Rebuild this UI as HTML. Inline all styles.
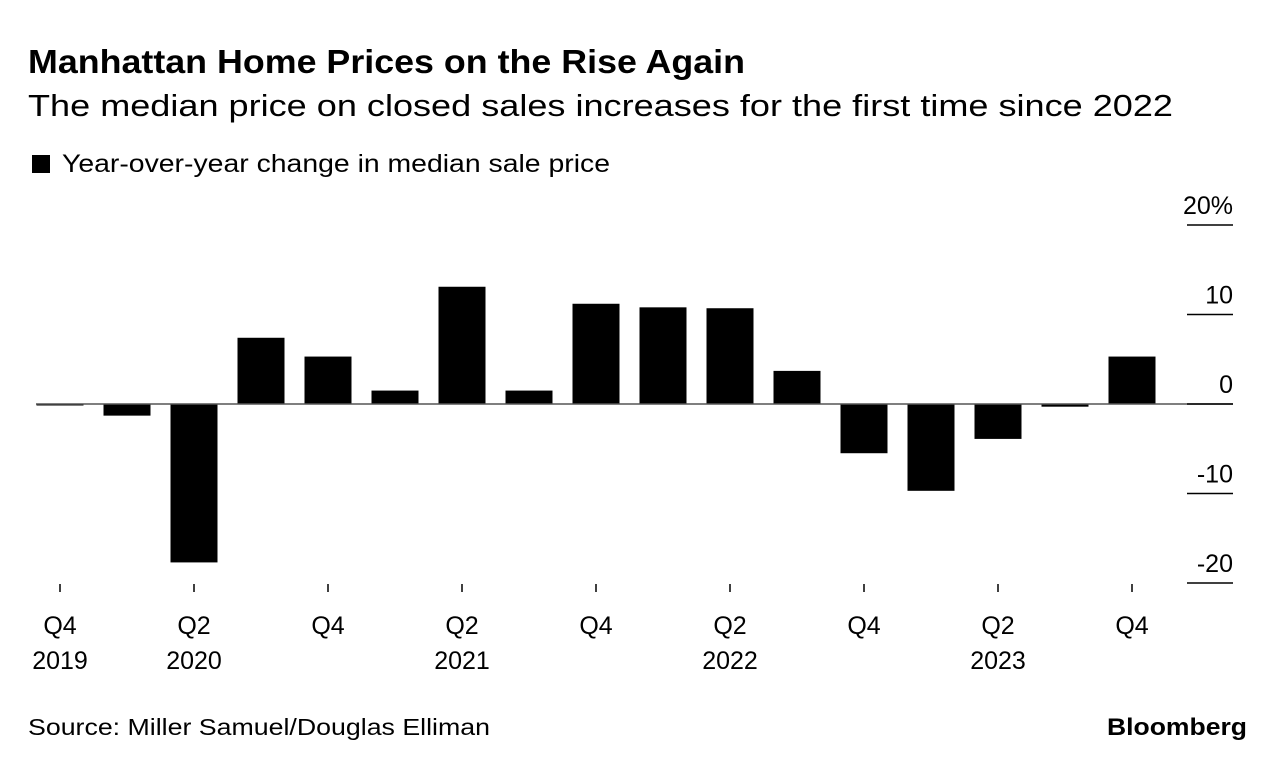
<!DOCTYPE html>
<html><head><meta charset="utf-8"><style>
body{margin:0;background:#fff;font-family:"Liberation Sans",sans-serif;color:#000}
svg text{font-family:"Liberation Sans",sans-serif}
</style></head><body>
<svg width="1285" height="768" viewBox="0 0 1285 768">
<text x="28" y="73" font-size="33" font-weight="bold" textLength="717" lengthAdjust="spacingAndGlyphs">Manhattan Home Prices on the Rise Again</text>
<text x="28" y="116" font-size="31" textLength="1145" lengthAdjust="spacingAndGlyphs">The median price on closed sales increases for the first time since 2022</text>
<rect x="32" y="155" width="18" height="18" fill="#000"/>
<text x="62" y="172" font-size="25" textLength="548" lengthAdjust="spacingAndGlyphs">Year-over-year change in median sale price</text>
<g id="bars"></g>
<g id="yaxis"></g>
<g id="xaxis"></g>
<text x="28" y="735" font-size="23" textLength="462" lengthAdjust="spacingAndGlyphs">Source: Miller Samuel/Douglas Elliman</text>
<text x="1107" y="735" font-size="24" font-weight="bold" textLength="140" lengthAdjust="spacingAndGlyphs">Bloomberg</text>
</svg>
<script>
const categories=["Q4 2019","Q1 2020","Q2 2020","Q3 2020","Q4 2020","Q1 2021","Q2 2021","Q3 2021","Q4 2021","Q1 2022","Q2 2022","Q3 2022","Q4 2022","Q1 2023","Q2 2023","Q3 2023","Q4 2023"];
const values=[-0.1,-1.3,-17.7,7.4,5.3,1.5,13.1,1.5,11.2,10.8,10.7,3.7,-5.5,-9.7,-3.9,-0.3,5.3];
const yTicks=[20,10,0,-10,-20];
const yTickLabels=["20%","10","0","-10","-20"];
const xTickIdx=[0,2,4,6,8,10,12,14,16];
const xTickQ=["Q4","Q2","Q4","Q2","Q4","Q2","Q4","Q2","Q4"];
const xTickYr=["2019","2020","","2021","","2022","","2023",""];
const NS="http://www.w3.org/2000/svg";
function y(v){return 404-v*8.95;}
function x(i){return 60+i*67;}
const bw=47;
const bars=document.getElementById('bars'),ya=document.getElementById('yaxis'),xa=document.getElementById('xaxis');
function mk(tag,attrs,parent){const e=document.createElementNS(NS,tag);for(const k in attrs)e.setAttribute(k,attrs[k]);parent.appendChild(e);return e;}
values.forEach((v,i)=>{
 const r=mk('rect',{x:x(i)-bw/2,y:Math.min(y(v),y(0)),width:bw,height:Math.max(Math.abs(y(v)-y(0)),1.5),fill:'#000'},bars);
 
 
});
const zl=mk('line',{x1:36,x2:1233,y1:y(0),y2:y(0),stroke:'#555','stroke-width':1.5},ya);


yTicks.forEach((t,i)=>{
 const l=mk('line',{x1:1187,x2:1233,y1:y(t),y2:y(t),stroke:'#000','stroke-width':1.5},ya);
 
 
 const tx=mk('text',{x:1233,y:y(t)-11,'font-size':25,'text-anchor':'end'},ya);
 tx.textContent=yTickLabels[i];
 
 
});
xTickIdx.forEach((ci,k)=>{
 const l=mk('line',{x1:x(ci),x2:x(ci),y1:584,y2:592,stroke:'#000','stroke-width':1.5},xa);
 
 
 const t1=mk('text',{x:x(ci),y:634,'font-size':25,'text-anchor':'middle'},xa);
 t1.textContent=xTickQ[k];
 
 
 if(xTickYr[k]){
 const t2=mk('text',{x:x(ci),y:669,'font-size':25,'text-anchor':'middle'},xa);
 t2.textContent=xTickYr[k];
 
 
 }
});
</script>
</body></html>
